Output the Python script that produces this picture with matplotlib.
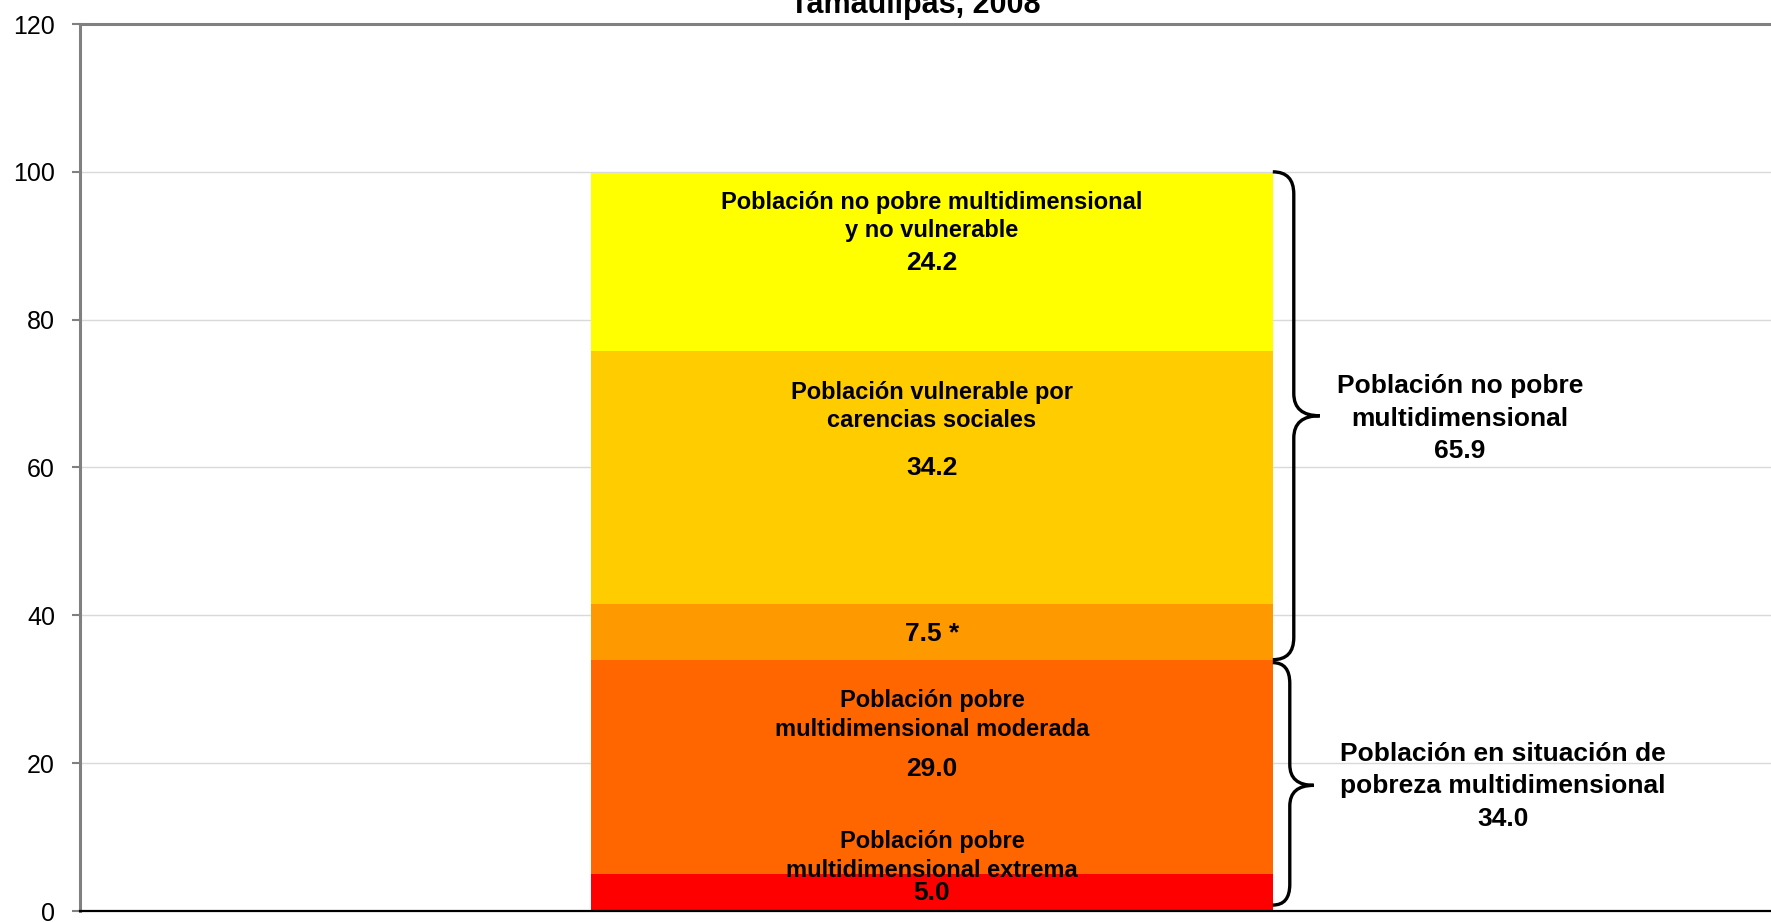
import matplotlib
matplotlib.use("Agg")
import matplotlib.pyplot as plt
from matplotlib.path import Path
from matplotlib.patches import PathPatch

plt.rcParams['font.family'] = ['Liberation Sans', 'DejaVu Sans']

# Data
segments = ["extrema", "moderada", "vulnerable_ingreso", "vulnerable_carencias", "no_pobre"]
values = [5.0, 29.0, 7.5, 34.2, 24.2]
colors = ["#FF0000", "#FF6600", "#FF9900", "#FFCC00", "#FFFF00"]
group_labels = ["Población no pobre\nmultidimensional\n65.9",
                "Población en situación de\npobreza multidimensional\n34.0"]
yticks = [0, 20, 40, 60, 80, 100, 120]
title = "Tamaulipas, 2008"

W, H = 1771, 922
fig = plt.figure(figsize=(W / 100, H / 100), dpi=100)
ax = fig.add_axes([80 / W, 1 - 911 / H, (1784 - 80) / W, (911 - 24) / H])

bottom = 0
for v, c in zip(values, colors):
    ax.bar(0, v, width=1.0, bottom=bottom, color=c, zorder=2)
    bottom += v

ax.set_xlim(-1.25, 1.25)
ax.set_ylim(0, 120)
ax.set_yticks(yticks)
ax.set_xticks([])
ax.grid(axis='y', color='#d9d9d9', lw=1.0, zorder=0)
ax.tick_params(axis='y', labelsize=18, length=6, width=1.5, color='#808080', pad=12)
for s in ['left', 'top']:
    ax.spines[s].set_color('#808080')
    ax.spines[s].set_linewidth(2.2)
ax.spines['right'].set_visible(False)
ax.spines['bottom'].set_color('black')
ax.spines['bottom'].set_linewidth(1.6)

fs = 17
nfs = 19
bold = dict(ha='center', va='center', fontweight='bold')
# Labels inside bar
ax.text(0, 95.8, "Población no pobre multidimensional", fontsize=fs, **bold)
ax.text(0, 92.1, "y no vulnerable", fontsize=fs, **bold)
ax.text(0, 87.7, f"{values[4]:.1f}", fontsize=nfs, **bold)

ax.text(0, 70.2, "Población vulnerable por", fontsize=fs, **bold)
ax.text(0, 66.3, "carencias sociales", fontsize=fs, **bold)
ax.text(0, 59.9, f"{values[3]:.1f}", fontsize=nfs, **bold)

ax.text(0, 37.5, f"{values[2]:.1f} *", fontsize=nfs, **bold)

ax.text(0, 28.5, "Población pobre", fontsize=fs, **bold)
ax.text(0, 24.6, "multidimensional moderada", fontsize=fs, **bold)
ax.text(0, 19.2, f"{values[1]:.1f}", fontsize=nfs, **bold)

narrow = ['Liberation Sans Narrow', 'Liberation Sans']
ax.text(0, 9.4, "Población pobre", fontsize=fs, family=narrow, **bold)
ax.text(0, 5.5, "multidimensional extrema", fontsize=fs, family=narrow, **bold)
ax.text(0, 2.4, f"{values[0]:.1f}", fontsize=nfs, family=narrow, **bold)

# Group labels to the right
gfs = 19
xr1 = (1460 - 932) / 682
for y, t in zip([71.0, 66.6, 62.2], group_labels[0].split("\n")):
    ax.text(xr1, y, t, fontsize=gfs, **bold)
xr2 = (1503 - 932) / 682
for y, t in zip([21.2, 16.9, 12.4], group_labels[1].split("\n")):
    ax.text(xr2, y, t, fontsize=gfs, **bold)


def brace(ax, x0, x1, x2, yt, yb, ym, r=3.0):
    verts = [
        (x0, yt), (x1, yt), (x1, yt - r),
        (x1, ym + r), (x1, ym), (x2, ym),
        (x1, ym), (x1, ym - r),
        (x1, yb + r), (x1, yb), (x0, yb),
    ]
    codes = [Path.MOVETO, Path.CURVE3, Path.CURVE3,
             Path.LINETO, Path.CURVE3, Path.CURVE3,
             Path.CURVE3, Path.CURVE3,
             Path.LINETO, Path.CURVE3, Path.CURVE3]
    p = PathPatch(Path(verts, codes), fill=False, lw=2.4, ec='black', zorder=5, clip_on=False)
    ax.add_patch(p)


poor = values[0] + values[1]
brace(ax, 0.5, (1294 - 932) / 682, (1320 - 932) / 682, 100, poor, 67.0, r=3.0)
brace(ax, 0.5, (1290 - 932) / 682, (1314 - 932) / 682, poor - 0.4, 0.8, 17.0, r=2.8)

fig.text(915 / W, 1 - 13 / H, title, ha='center', va='baseline', fontsize=22, fontweight='bold')

fig.savefig("out.png", dpi=100)
